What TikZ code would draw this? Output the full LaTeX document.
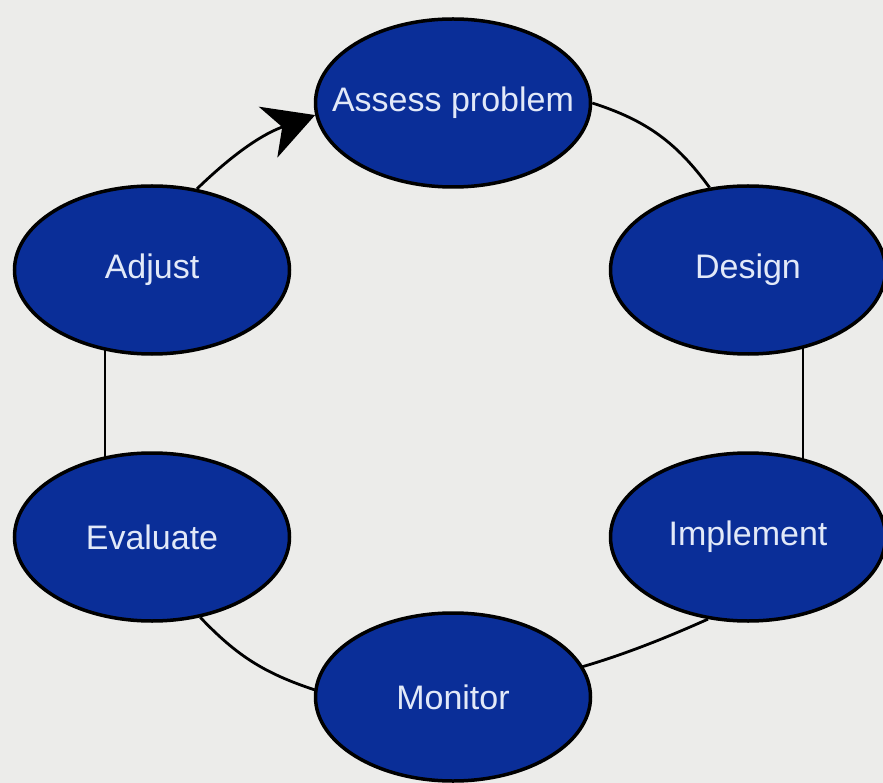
\documentclass[tikz,border=0pt]{standalone}
\usepackage{fontspec}
\setmainfont{Liberation Sans}
\usetikzlibrary{shapes.geometric,arrows.meta,backgrounds}
\definecolor{bgc}{RGB}{236,236,234}
\definecolor{blfill}{RGB}{10,46,152}
\definecolor{txtc}{RGB}{226,233,248}
\tikzset{
  stage/.style={ellipse, draw=black, line width=3.5pt, fill=blfill,
    minimum width=275pt, minimum height=168pt, inner xsep=-45pt, inner ysep=0pt,
    text=txtc, font=\fontsize{34}{38}\selectfont},
  link/.style={draw=black, line width=2.8pt},
}
\begin{document}
\begin{tikzpicture}[x=1pt,y=-1pt]
\useasboundingbox (0,0) rectangle (883,783);
\node[stage] (assess) at (453,103) {Assess problem};
\node[stage] (adjust) at (152,270) {Adjust};
\node[stage] (design) at (748,270) {Design};
\node[stage] (evaluate) at (152,537) {Evaluate};
\node[stage] (implement) at (748,537) {Implement};
\node[stage] (monitor) at (453,697) {Monitor};
\begin{scope}[on background layer]
\fill[bgc] (0,0) rectangle (883,783);
\draw[link] (assess.east) to[bend left=18] (design.115);
\draw[link] ([xshift=55pt]design.center) -- ([xshift=55pt]implement.center);
\draw[link] (implement.244) to[bend left=14] (monitor.177);
\draw[link] (monitor.177) to[bend left=14] (evaluate.301);
\draw[link] ([xshift=-47pt]evaluate.center) -- ([xshift=-47pt]adjust.center);
\end{scope}
\draw[link, -{Stealth[length=50pt,width=54pt,inset=15pt]}] (adjust.61) to[bend left=12] (assess.185);
\end{tikzpicture}
\end{document}
